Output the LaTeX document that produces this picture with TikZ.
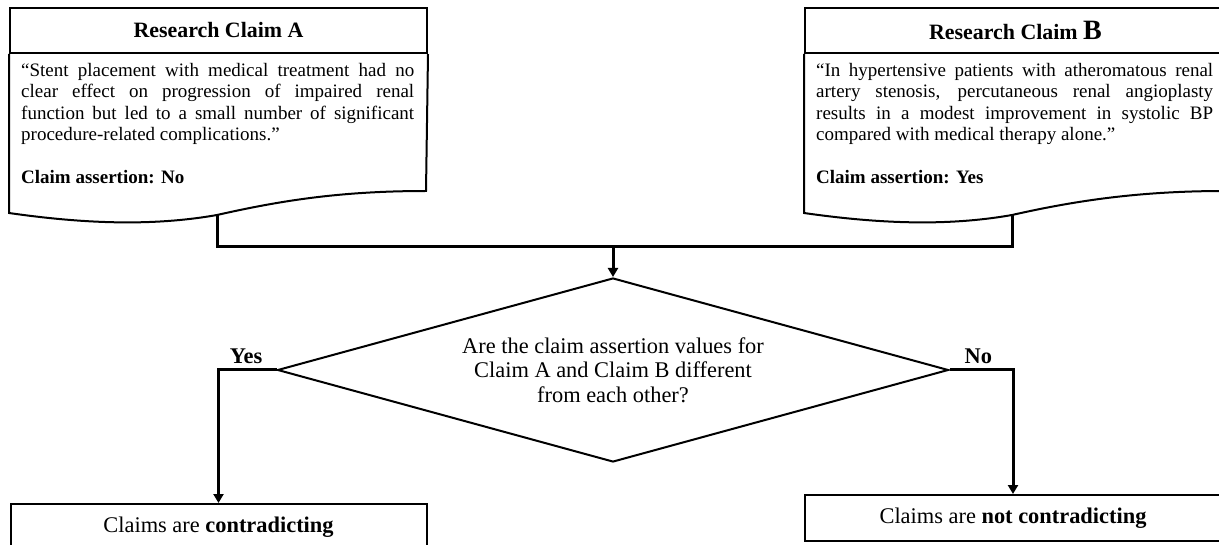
\documentclass[tikz,border=0pt]{standalone}
\usepackage{fontspec}
\setmainfont{Liberation Serif}
\usepackage{tikz}
\usetikzlibrary{shapes.geometric, arrows.meta, positioning}

\newcommand{\nohyph}{\hyphenpenalty=10000 \exhyphenpenalty=10000 \tolerance=9999 \parindent=0pt\relax}

\tikzset{
  titlebox/.style={draw, line width=2pt, minimum height=45pt, inner sep=0pt,
    font=\fontsize{21.9}{24}\selectfont\bfseries},
  claimtext/.style={anchor=north west, text width=#1, align=justify,
    inner xsep=12pt, inner ysep=9pt, font=\fontsize{19}{21.5}\selectfont},
  docline/.style={line width=2pt},
  decision/.style={diamond, draw, line width=2pt, aspect=3.65, minimum width=671pt,
    minimum height=184pt, inner sep=0pt, align=center,
    font=\fontsize{22.4}{24.3}\selectfont},
  resultbox/.style={draw, line width=2pt, minimum width=416pt,
    minimum height=46pt, inner sep=0pt, font=\fontsize{22.4}{24.3}\selectfont},
  branchlbl/.style={inner sep=0pt, font=\fontsize{22.4}{24}\selectfont\bfseries},
  flow/.style={line width=3pt},
  flowarrow/.style={flow, -{Triangle[width=10pt,length=9pt]}},
}

\begin{document}
\begin{tikzpicture}[x=1pt, y=-1pt]
\useasboundingbox (0,0) rectangle (1219,545);
\clip (0,0) rectangle (1219,545);

% claim A
\node[titlebox, minimum width=417pt] (titleA) at (218.5,30.5) {Research Claim A};
\node[claimtext=393pt] (textA) at (titleA.south west) {\nohyph “Stent placement with medical treatment had no clear effect on progression of impaired renal function but led to a small number of significant procedure-related complications.”\par\vspace{21.5pt}\textbf{Claim assertion: No}};
\draw[docline] (titleA.south west) -- ++(0,159)
  .. controls +(70,10) and +(-68,12) .. ++(208,2) coordinate (footA)
  .. controls +(62,-14) and +(-87,0) .. ++(209,-24) -- (titleA.south east);

% claim B
\node[titlebox, minimum width=421pt] (titleB) at (1015.5,30.5) {Research Claim {\fontsize{28}{28}\selectfont B}};
\node[claimtext=397pt] (textB) at (titleB.south west) {\nohyph “In hypertensive patients with atheromatous renal artery stenosis, percutaneous renal angioplasty results in a modest improvement in systolic BP compared with medical therapy alone.”\par\vspace{21.5pt}\textbf{Claim assertion: Yes}};
\draw[docline] (titleB.south west) -- ++(0,159)
  .. controls +(70,10) and +(-68,12) .. ++(208,2) coordinate (footB)
  .. controls +(62,-14) and +(-87,0) .. ++(213,-24) -- (titleB.south east);

% decision
\node[decision] (decide) at (613,370) {Are the claim assertion values for\\Claim A and Claim B different\\from each other?};
\draw[flow] (footA) -- ++(0,32) coordinate (joinA) -| (footB);
\coordinate (join) at (decide.north |- joinA);
\draw[flowarrow] (join) -- (decide.north);

\node[branchlbl, anchor=base east] (yeslbl) at ([xshift=-14pt,yshift=6pt]decide.west) {Yes};
\node[branchlbl, anchor=base west] (nolbl) at ([xshift=15pt,yshift=6pt]decide.east) {No};

% results
\node[resultbox] (contra) at (218.5,527) {Claims are \textbf{contradicting}};
\node[resultbox] (notcontra) at (1013,518) {Claims are \textbf{not contradicting}};
\draw[flowarrow] (decide.west) -| (contra.north);
\draw[flowarrow] (decide.east) -| (notcontra.north);
\end{tikzpicture}
\end{document}
